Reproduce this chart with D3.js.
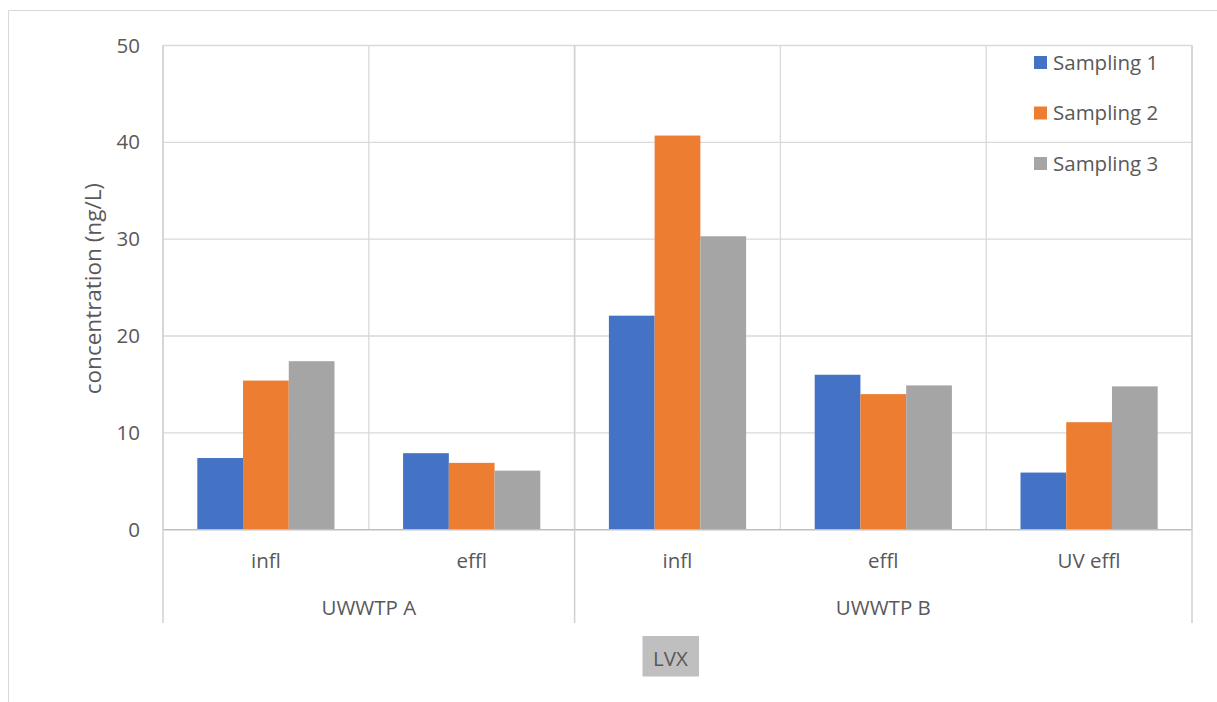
<!DOCTYPE html>
<html>
<head>
<meta charset="utf-8">
<script src="https://cdn.jsdelivr.net/npm/d3@7"></script>
<style>
  html, body { margin: 0; padding: 0; background: #fff; }
  svg { display: block; }
  text { font-family: "Open Sans", "Noto Sans", sans-serif; fill: #595959; }
</style>
</head>
<body>
<svg id="chart" width="1217" height="702"></svg>
<script>
// LVX concentrations per treatment stage and sampling campaign (ng/L)
const categories = ["infl", "effl", "infl", "effl", "UV effl"];
const plants = ["UWWTP A", "UWWTP B"];
const plantSpans = [2, 3];            // number of stages under each plant
const seriesNames = ["Sampling 1", "Sampling 2", "Sampling 3"];
const sampling1 = [7.4, 7.9, 22.1, 16.0, 5.9];
const sampling2 = [15.4, 6.9, 40.7, 14.0, 11.1];
const sampling3 = [17.4, 6.1, 30.3, 14.9, 14.8];
const yTicks = [0, 10, 20, 30, 40, 50];
const colors = ["#4472c4", "#ed7d31", "#a5a5a5"];

const series = [sampling1, sampling2, sampling3];
const svg = d3.select("#chart");
const FONT = "20.5px";

const plot = { left: 163, right: 1192, top: 45.5, bottom: 529.7 };

// outer chart frame
svg.append("path")
  .attr("d", `M8.5,${702}V10.5H1217`)
  .attr("fill", "none").attr("stroke", "#d9d9d9").attr("stroke-width", 1);

const x0 = d3.scaleBand()
  .domain(d3.range(categories.length))
  .range([plot.left, plot.right])
  .paddingInner(0).paddingOuter(0);

const x1 = d3.scaleBand()
  .domain(d3.range(series.length))
  .range([0, x0.bandwidth()])
  .paddingInner(0).paddingOuter(0.75);

const y = d3.scaleLinear().domain([0, 50]).range([plot.bottom, plot.top]);

// horizontal gridlines
svg.append("g").selectAll("line").data(yTicks.filter(d => d > 0)).join("line")
  .attr("x1", plot.left).attr("x2", plot.right)
  .attr("y1", d => y(d)).attr("y2", d => y(d))
  .attr("stroke", "#d9d9d9").attr("stroke-width", 1.3);

// vertical gridlines at category boundaries
const bounds = d3.range(categories.length + 1).map(i =>
  i < categories.length ? x0(i) : plot.right);
svg.append("g").selectAll("line").data(bounds).join("line")
  .attr("x1", d => d).attr("x2", d => d)
  .attr("y1", plot.top).attr("y2", plot.bottom)
  .attr("stroke", "#d9d9d9").attr("stroke-width", 1.3);

// bars
const barData = [];
series.forEach((vals, s) => vals.forEach((v, c) => barData.push({ s, c, v })));
svg.append("g").selectAll("rect").data(barData).join("rect")
  .attr("x", d => x0(d.c) + x1(d.s))
  .attr("width", x1.bandwidth())
  .attr("y", d => y(d.v))
  .attr("height", d => y(0) - y(d.v))
  .attr("fill", d => colors[d.s]);

// value axis
const yAxis = svg.append("g")
  .attr("transform", `translate(${plot.left - 23},0)`)
  .call(d3.axisLeft(y).tickValues(yTicks).tickSize(0).tickPadding(0));
yAxis.select(".domain").remove();
yAxis.selectAll("text")
  .style("font-size", FONT)
  .style("font-family", "'Open Sans', 'Noto Sans', sans-serif")
  .attr("fill", "#595959");

// axis baseline
svg.append("line")
  .attr("x1", plot.left).attr("x2", plot.right)
  .attr("y1", y(0)).attr("y2", y(0))
  .attr("stroke", "#bfbfbf").attr("stroke-width", 1.5);

// group separators, running down through the category rows
const groupEdges = [0];
plantSpans.forEach(n => groupEdges.push(groupEdges[groupEdges.length - 1] + n));
const groupX = groupEdges.map(i => i < categories.length ? x0(i) : plot.right);
svg.append("g").selectAll("line").data(groupX).join("line")
  .attr("x1", d => d).attr("x2", d => d)
  .attr("y1", plot.top).attr("y2", 623)
  .attr("stroke", "#d0d0d0").attr("stroke-width", 1.5);

// stage labels
svg.append("g").selectAll("text").data(categories).join("text")
  .attr("x", (d, i) => x0(i) + x0.bandwidth() / 2)
  .attr("y", 568)
  .attr("text-anchor", "middle")
  .style("font-size", FONT)
  .text(d => d);

// plant labels
svg.append("g").selectAll("text").data(plants).join("text")
  .attr("x", (d, i) => (groupX[i] + groupX[i + 1]) / 2)
  .attr("y", 615)
  .attr("text-anchor", "middle")
  .style("font-size", FONT)
  .text(d => d);

// value axis title
svg.append("text")
  .attr("transform", `translate(101,${(plot.top + plot.bottom) / 2 + 1}) rotate(-90)`)
  .attr("text-anchor", "middle")
  .style("font-size", "22.5px")
  .text("concentration (ng/L)");

// compound label box
svg.append("rect")
  .attr("x", 642.5).attr("y", 636).attr("width", 56.5).attr("height", 40.5)
  .attr("fill", "#bfbfbf");
svg.append("text")
  .attr("x", 670.5).attr("y", 666)
  .attr("text-anchor", "middle")
  .style("font-size", FONT)
  .text("LVX");

// legend
const legend = svg.append("g").selectAll("g").data(seriesNames).join("g")
  .attr("transform", (d, i) => `translate(1034,${62.5 + i * 50.5})`);
legend.append("rect")
  .attr("x", 0).attr("y", -6.5).attr("width", 13).attr("height", 13)
  .attr("fill", (d, i) => colors[i]);
legend.append("text")
  .attr("x", 19).attr("y", 7)
  .style("font-size", FONT)
  .text(d => d);
</script>
</body>
</html>
